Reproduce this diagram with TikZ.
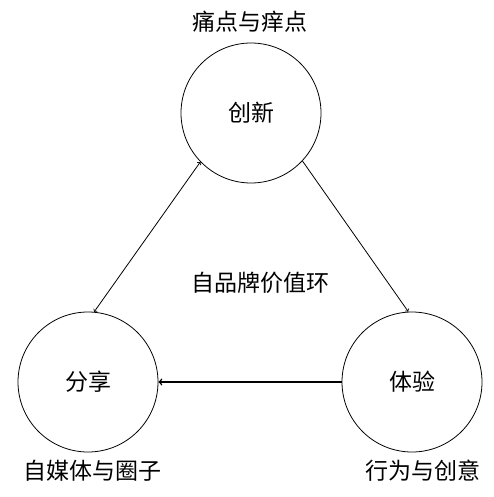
\documentclass[tikz,border=0pt]{standalone}
\usepackage{fontspec}
\usepackage{tikz}
\usepackage{xcolor}
\setmainfont{Noto Sans CJK SC}
\usetikzlibrary{arrows}
\usetikzlibrary{positioning}

\begin{document}
\begin{tikzpicture}[x=1pt, y=-1pt, font=\fontsize{23}{26}\selectfont]
				\useasboundingbox (0,0) rectangle (493,497);
				\node[draw, circle, minimum size=140pt, inner sep=0pt, line width={0.8pt}] (xtop) at (251.0000000, 113.0000000) {创新};
				\node[draw, circle, minimum size=140pt, inner sep=0pt, line width={0.8pt}] (xleft) at (88.0000000, 382.0000000) {分享};
				\node[draw, circle, minimum size=140pt, inner sep=0pt, line width={0.8pt}] (xright) at (412.0000000, 382.0000000) {体验};
				\node (ltop) at (250.0000000, 22.0000000) {痛点与痒点};
				\node (lleft) at (92.0000000, 471.0000000) {自媒体与圈子};
				\node (lright) at (423.0000000, 471.0000000) {行为与创意};
				\node (lmid) at (260.0000000, 283.0000000) {自品牌价值环};
				\draw[-to, draw, line width={0.8pt}] (xtop.317) to (xright.93);
				\draw[to-to, draw, line width={0.8pt}] (xtop.224) to (xleft.85);
				\draw[-to, draw, line width={1.5pt}] (xright) to (xleft);
			\end{tikzpicture}
\end{document}
